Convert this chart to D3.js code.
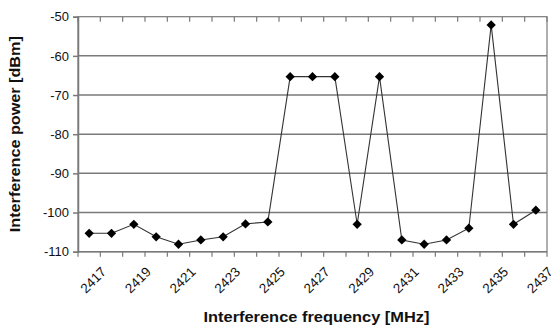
<!DOCTYPE html>
<html>
<head>
<meta charset="utf-8">
<script src="https://cdn.jsdelivr.net/npm/d3@7"></script>
<style>
  body { margin: 0; background: #fff; }
  svg text { font-family: "Liberation Sans", Arial, sans-serif; fill: #111; }
</style>
</head>
<body>
<script>
// Data
const frequencies = [2417, 2418, 2419, 2420, 2421, 2422, 2423, 2424, 2425, 2426, 2427,
                     2428, 2429, 2430, 2431, 2432, 2433, 2434, 2435, 2436, 2437];
const power = [-105.3, -105.3, -103, -106.2, -108.1, -107, -106.2, -102.9, -102.4, -65.3, -65.3,
               -65.3, -103, -65.3, -107, -108.1, -107, -104, -52.1, -103, -99.4];
const yTicks = [-110, -100, -90, -80, -70, -60, -50];
const xLabels = [2417, 2419, 2421, 2423, 2425, 2427, 2429, 2431, 2433, 2435, 2437];

const width = 551, height = 331;
const margin = { left: 78, right: 4, top: 16.7, bottom: 79.3 };

const svg = d3.select("body")
    .append("svg")
    .attr("width", width)
    .attr("height", height);

const x = d3.scaleBand()
    .domain(frequencies)
    .range([margin.left, width - margin.right]);

const y = d3.scaleLinear()
    .domain([-110, -50])
    .range([height - margin.bottom, margin.top]);

const gridColor = "#7a7a7a";

// Horizontal gridlines
svg.append("g")
    .selectAll("line")
    .data(yTicks.filter(d => d > -110 && d < -50))
    .enter()
    .append("line")
    .attr("x1", margin.left)
    .attr("x2", width - margin.right)
    .attr("y1", d => y(d))
    .attr("y2", d => y(d))
    .attr("stroke", gridColor)
    .attr("stroke-width", 1.5);

// Plot border (top, right)
svg.append("rect")
    .attr("x", margin.left)
    .attr("y", margin.top)
    .attr("width", width - margin.right - margin.left)
    .attr("height", height - margin.bottom - margin.top)
    .attr("fill", "none")
    .attr("stroke", gridColor)
    .attr("stroke-width", 1.2);

// Y axis (plain hyphen minus, like the original)
const yAxis = svg.append("g")
    .attr("transform", `translate(${margin.left},0)`)
    .call(d3.axisLeft(y).tickValues(yTicks).tickFormat(d => String(d)).tickSize(5).tickPadding(4));
yAxis.select(".domain").attr("stroke", gridColor).attr("stroke-width", 1.5);
yAxis.selectAll(".tick line").attr("stroke", gridColor).attr("stroke-width", 1.5);
yAxis.selectAll("text")
    .style("font-size", "13px")
    .style("font-family", "Liberation Sans, Arial, sans-serif")
    .attr("fill", "#111");

// X axis ticks (between categories) at bottom and top
const bounds = frequencies.map(d => x(d)).concat([x(frequencies[frequencies.length - 1]) + x.bandwidth()]);
svg.append("line")
    .attr("x1", margin.left)
    .attr("x2", width - margin.right)
    .attr("y1", y(-110))
    .attr("y2", y(-110))
    .attr("stroke", gridColor)
    .attr("stroke-width", 1.5);
svg.append("g")
    .selectAll("line")
    .data(bounds)
    .enter()
    .append("line")
    .attr("x1", d => d)
    .attr("x2", d => d)
    .attr("y1", y(-110))
    .attr("y2", y(-110) + 5)
    .attr("stroke", gridColor)
    .attr("stroke-width", 1.2);
svg.append("g")
    .selectAll("line")
    .data(bounds)
    .enter()
    .append("line")
    .attr("x1", d => d)
    .attr("x2", d => d)
    .attr("y1", y(-50))
    .attr("y2", y(-50) + 5)
    .attr("stroke", gridColor)
    .attr("stroke-width", 1.2);

// X tick labels, rotated
svg.append("g")
    .selectAll("text")
    .data(xLabels)
    .enter()
    .append("text")
    .attr("transform", d => `translate(${x(d) + x.bandwidth() / 2 + 18},${y(-110) + 21}) rotate(-45)`)
    .attr("text-anchor", "end")
    .style("font-size", "13.5px")
    .attr("fill", "#111")
    .text(d => d);

// Line
const line = d3.line()
    .x((d, i) => x(frequencies[i]) + x.bandwidth() / 2)
    .y(d => y(d));

svg.append("path")
    .datum(power)
    .attr("d", line)
    .attr("fill", "none")
    .attr("stroke", "#333")
    .attr("stroke-width", 1.1);

// Diamond markers
svg.append("g")
    .selectAll("path")
    .data(power)
    .enter()
    .append("path")
    .attr("transform", (d, i) => `translate(${x(frequencies[i]) + x.bandwidth() / 2},${y(d)})`)
    .attr("d", d3.symbol().type(d3.symbolDiamond2).size(55))
    .attr("fill", "#000");

// Axis titles (stretched a little to match the wider original lettering)
svg.append("text")
    .attr("x", 316.5)
    .attr("y", 322)
    .attr("text-anchor", "middle")
    .attr("textLength", 226)
    .attr("lengthAdjust", "spacingAndGlyphs")
    .style("font-size", "14.5px")
    .style("font-weight", "bold")
    .text("Interference frequency [MHz]");

svg.append("text")
    .attr("transform", `translate(19.5,${(y(-50) + y(-110)) / 2}) rotate(-90)`)
    .attr("text-anchor", "middle")
    .attr("textLength", 196)
    .attr("lengthAdjust", "spacingAndGlyphs")
    .style("font-size", "14.5px")
    .style("font-weight", "bold")
    .text("Interference power [dBm]");
</script>
</body>
</html>
